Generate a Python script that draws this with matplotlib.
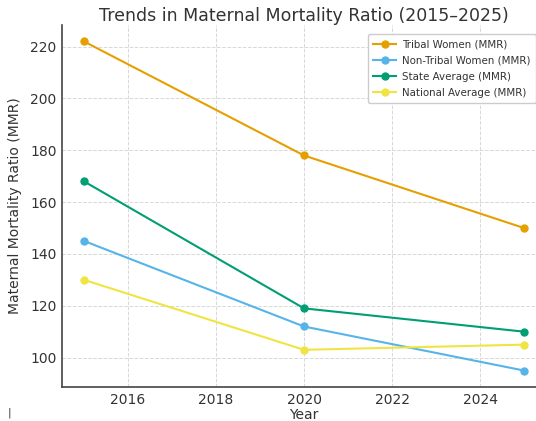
import numpy as np
import matplotlib.pyplot as plt

years = [2015, 2020, 2025]
tribal = [222, 178, 150]
non_tribal = [145, 112, 95]
state_avg = [168, 119, 110]
national_avg = [130, 103, 105]

series = [
    ("Tribal Women (MMR)", tribal, "#E69F00"),
    ("Non-Tribal Women (MMR)", non_tribal, "#56B4E9"),
    ("State Average (MMR)", state_avg, "#009E73"),
    ("National Average (MMR)", national_avg, "#F0E442"),
]

fig = plt.figure(figsize=(5.36, 4.21), dpi=100)
ax = fig.add_axes([62/536, 1 - 387/421, (546 - 62)/536, (387 - 25)/421])

for label, vals, color in series:
    ax.plot(years, vals, marker='o', ms=5, lw=1.5, color=color, label=label)

ax.set_xlim(2014.5, 2025.5)
ax.set_ylim(88.65, 228.35)
ax.set_xticks([2016, 2018, 2020, 2022, 2024])
ax.set_yticks([100, 120, 140, 160, 180, 200, 220])
ax.tick_params(labelsize=10, colors='#333333', length=0, pad=4)
ax.set_xlabel("Year", fontsize=10, color='#333333', labelpad=1)
ax.set_ylabel("Maternal Mortality Ratio (MMR)", fontsize=10, color='#333333', labelpad=6)
ax.set_title("Trends in Maternal Mortality Ratio (2015\u20132025)", fontsize=12.5,
             color='#333333', pad=2)
ax.grid(color='#d8d8d8', ls='--', lw=0.7)
for side in ('top', 'right'):
    ax.spines[side].set_visible(False)
for side in ('left', 'bottom'):
    ax.spines[side].set_color('#444444')
    ax.spines[side].set_linewidth(1.2)

leg = ax.legend(loc='upper left', bbox_to_anchor=(363/536, 1 - 29/421),
                bbox_transform=fig.transFigure, fontsize=7.4, framealpha=1,
                edgecolor='#cccccc', handlelength=2.2, borderpad=0.5,
                labelspacing=0.6, handletextpad=0.6)
for t in leg.get_texts():
    t.set_color('#333333')

fig.text(8/536, 1 - 413/421, "|", fontsize=8, color='#333333', va='center')

fig.savefig("out.png", dpi=100)
